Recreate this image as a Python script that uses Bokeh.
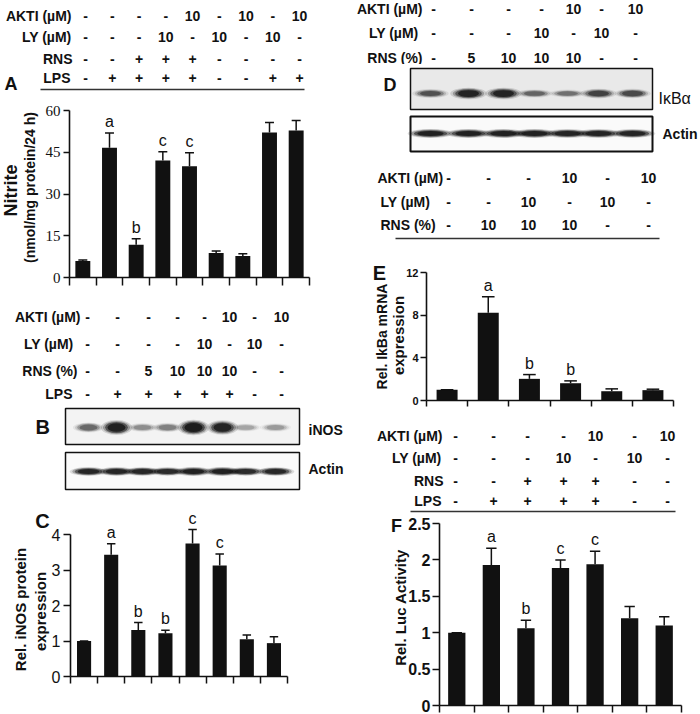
from math import pi
from bokeh.plotting import figure
from bokeh.layouts import row, column
from bokeh.models import Range1d, FixedTicker, LinearAxis
from bokeh.core.properties import value
from bokeh.embed import file_html
from bokeh.resources import INLINE

SANS = "Liberation Sans"
SERIF = "Liberation Serif"
INK = "#111111"

# ---------------- data ----------------
# Panel A: nitrite (nmol/mg protein/24 h)
a_values = [5.9, 46.6, 11.8, 42.0, 40.0, 8.8, 7.7, 52.1, 52.8]
a_sem = [0.4, 5.3, 2.1, 3.2, 4.8, 0.7, 0.8, 3.6, 3.6]
a_letters = ["", "a", "b", "c", "c", "", "", "", ""]
a_akti = ["-", "-", "-", "-", "10", "-", "10", "-", "10"]
a_ly = ["-", "-", "-", "10", "-", "10", "-", "10", "-"]
a_rns = ["-", "-", "+", "+", "+", "-", "-", "-", "-"]
a_lps = ["-", "+", "+", "+", "+", "-", "-", "+", "+"]
a_ticks = [0, 15, 30, 45, 60]

# Panel B: western blot lanes (band strength 0..1)
b_akti = ["-", "-", "-", "-", "-", "10", "-", "10"]
b_ly = ["-", "-", "-", "-", "10", "-", "10", "-"]
b_rns = ["-", "-", "5", "10", "10", "10", "-", "-"]
b_lps = ["-", "+", "+", "+", "+", "+", "-", "-"]
b_inos = [0.45, 0.95, 0.3, 0.35, 1.0, 0.9, 0.22, 0.25]
b_actin = [0.9, 0.9, 0.88, 0.85, 0.95, 0.95, 0.85, 0.88]

# Panel C: relative iNOS protein expression
c_values = [1.0, 3.43, 1.31, 1.22, 3.75, 3.13, 1.05, 0.94]
c_sem = [0.0, 0.31, 0.21, 0.08, 0.39, 0.32, 0.12, 0.18]
c_letters = ["", "a", "b", "b", "c", "c", "", ""]
c_ticks = [0, 1, 2, 3, 4]

# Panel D: western blot
d_akti = ["-", "-", "-", "-", "10", "-", "10"]
d_ly = ["-", "-", "-", "10", "-", "10", "-"]
d_rns = ["-", "5", "10", "10", "10", "-", "-"]
d_ikba = [0.55, 0.9, 0.9, 0.45, 0.4, 0.65, 0.6]
d_actin = [0.95, 0.95, 0.95, 0.95, 0.92, 0.92, 0.9]

# Panel E: relative IkBa mRNA expression
e_akti = ["-", "-", "-", "10", "-", "10"]
e_ly = ["-", "-", "10", "-", "10", "-"]
e_rns = ["-", "10", "10", "10", "-", "-"]
e_values = [1.0, 8.23, 2.03, 1.62, 0.87, 0.97]
e_sem = [0.0, 1.49, 0.40, 0.22, 0.22, 0.09]
e_letters = ["", "a", "b", "b", "", ""]
e_ticks = [0, 4, 8, 12]

# Panel F: relative luciferase activity
f_akti = ["-", "-", "-", "-", "10", "-", "10"]
f_ly = ["-", "-", "-", "10", "-", "10", "-"]
f_rns = ["-", "-", "+", "+", "+", "-", "-"]
f_lps = ["-", "+", "+", "+", "+", "-", "-"]
f_values = [1.0, 1.93, 1.06, 1.89, 1.94, 1.20, 1.10]
f_sem = [0.0, 0.23, 0.11, 0.11, 0.18, 0.16, 0.12]
f_letters = ["", "a", "b", "c", "c", "", ""]
f_ticks = [0, 0.5, 1, 1.5, 2, 2.5]
f_tick_labels = {0: "0", 0.5: "0.5", 1: "1", 1.5: "1.5", 2: "2", 2.5: "2.5"}


# ---------------- helpers ----------------
def ident(v):
    return v


def lin(p0, d0, p1, d1):
    k = (d1 - d0) / (p1 - p0)
    return lambda pos: d0 + (pos - p0) * k


def make_fig(X0, X1, Y0, Y1, fx=ident, fy=ident):
    p = figure(width=X1 - X0, height=Y1 - Y0,
               x_range=Range1d(fx(X0), fx(X1)), y_range=Range1d(fy(Y1), fy(Y0)),
               x_axis_location=None, y_axis_location=None, toolbar_location=None,
               output_backend="svg", min_border=0, min_border_left=0,
               min_border_right=0, min_border_top=0, min_border_bottom=0,
               frame_align=False)
    p.outline_line_color = None
    p.grid.grid_line_color = None
    return p


def txt(p, xs, ys, texts, size="14px", align="center", style="bold", font=SANS,
        fx=ident, fy=ident, angle=0.0):
    p.text(x=[fx(v) for v in xs], y=[fy(v) for v in ys], text=texts, angle=angle,
           text_align=align, text_baseline="middle", text_font=value(font),
           text_font_size=size, text_font_style=style, text_color=INK)


def table(p, cols, rows, row_ys, labels, label_xs, label_align):
    for entries, y, lab, lx in zip(rows, row_ys, labels, label_xs):
        txt(p, cols, [y] * len(cols), entries)
        txt(p, [lx], [y], [lab], align=label_align)


def bands(p, xs, strength, y, w, h):
    n = len(xs)
    for grow, alpha in ((1.3, 0.15), (1.12, 0.3), (0.95, 0.55), (0.75, 0.8)):
        p.ellipse(x=xs, y=[y] * n, width=[w * grow] * n,
                  height=[h * grow * (0.45 + 0.75 * s) for s in strength],
                  fill_color=INK, fill_alpha=[alpha * s for s in strength], line_color=None)


def chart(X0, X1, Y0, Y1, frame, n, ymax, ticks, tick_font, tick_size, tick_style,
          tick_out, standoff, xtick_out):
    fl, fr, ft, fb = frame
    fx = lin(fl, -0.5, fr, n - 0.5)
    fy = lin(fb, 0.0, ft, ymax)
    p = make_fig(X0, X1, Y0, Y1, fx, fy)
    ya = LinearAxis(fixed_location=-0.5, bounds=(0, ymax), ticker=FixedTicker(ticks=ticks))
    ya.major_tick_out = tick_out
    ya.major_tick_in = 0
    ya.minor_tick_line_color = None
    ya.major_label_standoff = standoff
    ya.major_label_text_font = tick_font
    ya.major_label_text_font_size = tick_size
    ya.major_label_text_font_style = tick_style
    ya.major_label_text_color = INK
    xa = LinearAxis(fixed_location=0, bounds=(-0.5, n - 0.5),
                    ticker=FixedTicker(ticks=[i - 0.5 for i in range(n + 1)]))
    xa.major_label_text_color = None
    xa.major_tick_out = xtick_out
    xa.major_tick_in = 0
    xa.minor_tick_line_color = None
    for ax in (xa, ya):
        ax.axis_line_width = 1.6
        ax.major_tick_line_width = 1.5
        ax.axis_line_color = INK
        ax.major_tick_line_color = INK
    p.add_layout(ya, "left")
    p.add_layout(xa, "below")
    return p, fx, fy


def bars(p, vals, sem, letters, width, letter_size):
    x = list(range(len(vals)))
    tops = [v + s for v, s in zip(vals, sem)]
    p.vbar(x=x, top=vals, bottom=0, width=width, fill_color=INK, line_color=None)
    p.segment(x0=x, y0=vals, x1=x, y1=tops, line_color=INK, line_width=1.5)
    cap = width * 0.3
    p.segment(x0=[xi - cap for xi in x], y0=tops, x1=[xi + cap for xi in x], y1=tops,
              line_color=INK, line_width=1.5)
    keep = [i for i, t in enumerate(letters) if t]
    p.text(x=[x[i] for i in keep], y=[tops[i] for i in keep], text=[letters[i] for i in keep],
           text_align="center", text_baseline="bottom", y_offset=-3,
           text_font=value(SANS), text_font_size=letter_size, text_color=INK)


# ---------------- left column ----------------
LX0, LX1 = 0, 350
RX0, RX1 = 350, 700

# Table A
tA = make_fig(LX0, LX1, 0, 96)
table(tA, [85 + 26.75 * i for i in range(len(a_values))], [a_akti, a_ly, a_rns, a_lps],
      [15, 36, 58, 77], ["AKTI (µM)", "LY (µM)", "RNS", "LPS"], [71, 71, 72, 70], "right")
tA.line(x=[40, 304], y=[89, 89], line_color="#333333", line_width=1.5)
txt(tA, [4], [83], ["A"], size="18px", align="left")

# Chart A
pA, fxA, fyA = chart(LX0, LX1, 96, 300, (69, 309, 110, 277), len(a_values), 60, a_ticks,
                     SERIF, "15px", "normal", 6, 3, 8)
bars(pA, a_values, a_sem, a_letters, 0.56, "16px")
txt(pA, [10], [190], ["Nitrite"], size="18px", fx=fxA, fy=fyA, angle=pi / 2)
txt(pA, [29], [187], ["(nmol/mg protein/24 h)"], size="14px", fx=fxA, fy=fyA, angle=pi / 2)

# Table B
tB = make_fig(LX0, LX1, 300, 400)
table(tB, [87, 117, 148, 177, 204, 229, 254, 281], [b_akti, b_ly, b_rns, b_lps],
      [316, 343, 370, 393], ["AKTI (µM)", "LY (µM)", "RNS (%)", "LPS"], [80, 73, 77, 72], "right")

# Blot B
bB = make_fig(LX0, LX1, 400, 497)
lanesB = [88, 116, 142, 167, 193, 222, 245, 275]
bB.quad(left=65, right=299, top=408, bottom=444, fill_color="#f3f3f3", line_color=INK, line_width=1.5)
bands(bB, lanesB, b_inos, 427, 24, 10)
bB.quad(left=65, right=299, top=452, bottom=489, fill_color="#fafafa", line_color=INK, line_width=1.5)
bands(bB, lanesB, b_actin, 471, 29, 6)
txt(bB, [35], [426], ["B"], size="20px", align="left")
txt(bB, [308], [429], ["iNOS"], align="left")
txt(bB, [308], [468], ["Actin"], align="left")

# Chart C
pC, fxC, fyC = chart(LX0, LX1, 497, 714, (70, 287, 534, 676), len(c_values), 4, c_ticks,
                     SANS, "16px", "normal", 7, 3, 7)
bars(pC, c_values, c_sem, c_letters, 0.52, "16px")
txt(pC, [42], [520], ["C"], size="20px", fx=fxC, fy=fyC)
txt(pC, [20], [609], ["Rel. iNOS protein"], size="15px", fx=fxC, fy=fyC, angle=pi / 2)
txt(pC, [40], [611], ["expression"], size="15px", fx=fxC, fy=fyC, angle=pi / 2)

left = column(tA, pA, tB, bB, pC, spacing=0)

# ---------------- right column ----------------
# Table D
tD = make_fig(RX0, RX1, 0, 64)
table(tD, [433, 471, 508, 541, 573, 601, 635], [d_akti, d_ly, d_rns], [8, 32, 57],
      ["AKTI (µM)", "LY (µM)", "RNS (%)"], [422, 418, 422], "right")

# Blot D
bD = make_fig(RX0, RX1, 64, 160)
lanesD = [430, 468, 503, 534, 567, 598, 632]
bD.quad(left=410, right=652, top=68, bottom=109, fill_color="#e9e9e9", line_color=INK, line_width=1.5)
bands(bD, lanesD, d_ikba, 93, 28, 8)
bD.quad(left=410, right=652, top=116, bottom=151, fill_color="#fafafa", line_color=INK, line_width=2)
bands(bD, lanesD, d_actin, 133, 35, 6)
txt(bD, [383], [84], ["D"], size="18px", align="left")
txt(bD, [658], [98], ["IκBα"], align="left", style="normal", size="16px")
txt(bD, [662], [133], ["Actin"], align="left")

# Table E
tE = make_fig(RX0, RX1, 160, 245)
table(tE, [448, 488, 528, 569, 607, 648], [e_akti, e_ly, e_rns], [177, 201, 224],
      ["AKTI (µM)", "LY (µM)", "RNS (%)"], [377, 380, 380], "left")
tE.line(x=[395, 659], y=[238, 238], line_color="#333333", line_width=1.5)

# Chart E
pE, fxE, fyE = chart(RX0, RX1, 245, 420, (426, 673, 272, 400), len(e_values), 12, e_ticks,
                     SANS, "11px", "bold", 6, 2, 6)
bars(pE, e_values, e_sem, e_letters, 0.51, "16px")
txt(pE, [379], [272], ["E"], size="20px", fx=fxE, fy=fyE)
txt(pE, [381], [336], ["Rel. IkBa mRNA"], size="14px", fx=fxE, fy=fyE, angle=pi / 2)
txt(pE, [398], [335], ["expression"], size="15px", fx=fxE, fy=fyE, angle=pi / 2)

# Table F
tF = make_fig(RX0, RX1, 420, 513)
table(tF, [455, 493, 527, 563, 595, 634, 667], [f_akti, f_ly, f_rns, f_lps],
      [435, 457, 480, 500], ["AKTI (µM)", "LY (µM)", "RNS", "LPS"], [442, 441, 443, 441], "right")
tF.line(x=[410, 675], y=[511, 511], line_color="#333333", line_width=1.5)

# Chart F
pF, fxF, fyF = chart(RX0, RX1, 513, 714, (439, 681, 523, 705), len(f_values), 2.5, f_ticks,
                     SANS, "16px", "bold", 7, 2, 7)
pF.yaxis[0].major_label_overrides = f_tick_labels
bars(pF, f_values, f_sem, f_letters, 0.5, "16px")
txt(pF, [396], [525], ["F"], size="18px", fx=fxF, fy=fyF)
txt(pF, [400], [607], ["Rel. Luc Activity"], size="15px", fx=fxF, fy=fyF, angle=pi / 2)

right = column(tD, bD, tE, pE, tF, pF, spacing=0)

layout = row(left, right, spacing=0)
open("out.html", "w").write(file_html(layout, INLINE))
